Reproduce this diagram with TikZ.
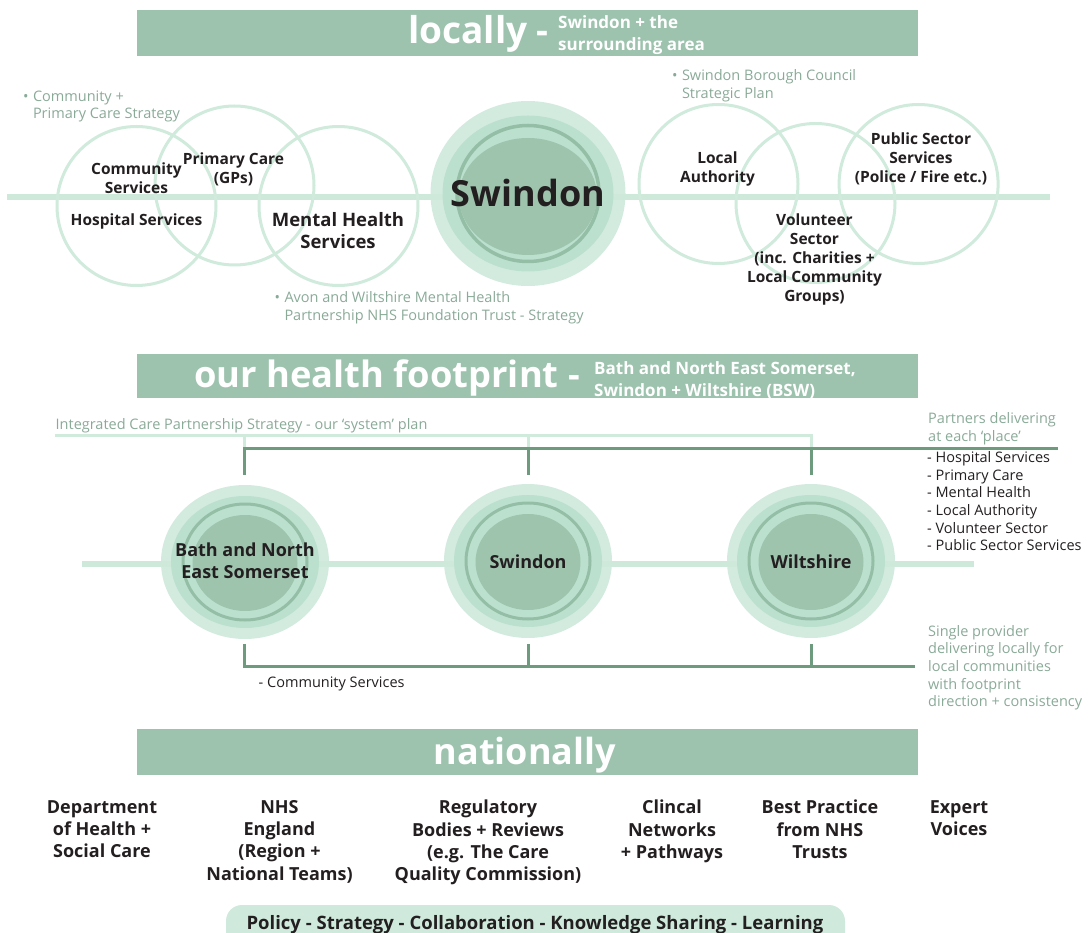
\documentclass[tikz,border=0pt]{standalone}
\usepackage{fontspec}
\setmainfont{Open Sans}
\definecolor{banner}{HTML}{9DC3AE}
\definecolor{cline}{HTML}{D0EADC}
\definecolor{barc}{HTML}{CEE8DA}
\definecolor{outerc}{HTML}{D3EBDF}
\definecolor{secondc}{HTML}{BBE0CE}
\definecolor{ringc}{HTML}{94BEA6}
\definecolor{innerc}{HTML}{9EC4AE}
\definecolor{darkc}{HTML}{6E9A7E}
\definecolor{notec}{HTML}{8AAA98}
\definecolor{txt}{HTML}{231F20}
\definecolor{pillc}{HTML}{CFEADC}
\newcommand\fsz[2]{\fontsize{#1}{#2}\selectfont}
\newcommand\midouter[2]{\fill[outerc] (#1,#2) ellipse [x radius=84pt, y radius=77pt];}
\newcommand\midinner[2]{%
  \fill[secondc] (#1,#2) ellipse [x radius=74pt, y radius=66pt];
  \draw[ringc, line width=3pt] (#1,#2) ellipse [x radius=62pt, y radius=58pt];
  \fill[innerc] (#1,#2+1) ellipse [x radius=52.5pt, y radius=48pt];}
\tikzset{
  circ/.style={draw=cline, line width=3pt},
  lbl/.style={font=\bfseries\fsz{15.5}{19}, text=txt, align=center, inner sep=0pt},
  lblbig/.style={font=\bfseries\fsz{18.5}{21.7}, text=txt, align=center, inner sep=0pt},
  place/.style={font=\bfseries\fsz{18}{22}, text=txt, align=center, inner sep=0pt},
  note/.style={font=\fsz{14.5}{17.6}, text=notec, align=left, inner sep=0pt},
  listtxt/.style={font=\fsz{14.5}{17.6}, text=txt, align=left, inner sep=0pt},
  bantitle/.style={font=\bfseries\fsz{37}{40}, text=white, inner sep=0pt},
  bansub/.style={font=\bfseries\fsz{17}{22}, text=white, align=left, inner sep=0pt},
  natl/.style={font=\bfseries\fsz{18}{22.3}, text=txt, align=center, inner sep=0pt},
  dk/.style={draw=darkc, line width=3pt},
  lt/.style={draw=cline, line width=3pt},
  bar/.style={draw=barc, line width=6pt},
}
\begin{document}
\begin{tikzpicture}[x=1pt,y=-1pt]
\useasboundingbox (0,0) rectangle (1090,933);
% ---------- locally ----------
\fill[banner] (137,10) rectangle (918,56);
\node[bantitle, anchor=base west] (loc) at (408,43.5) {locally -};
\node[bansub, anchor=west] (locsub) at (558,35) {Swindon + the\\surrounding area};
% Swindon disc outer
\fill[outerc] (528,193.5) ellipse [x radius=97.5pt, y radius=92.5pt];
% bar
\draw[bar] (7,197) -- (1050,197);
\fill[secondc] (528,193.5) ellipse [x radius=85.5pt, y radius=78pt];
\draw[ringc, line width=3.5pt] (528,193.5) ellipse [x radius=71pt, y radius=68pt];
\fill[innerc] (528,196.5) ellipse [x radius=69pt, y radius=58.5pt];
\node[font=\bfseries\fsz{36}{40}, text=txt, inner sep=0pt] (swin) at (528,193) {Swindon};
% left circles
\draw[circ] (136.5,206) circle [radius=79.5pt];
\draw[circ] (234.5,185.5) circle [radius=79.5pt];
\draw[circ] (338.5,206) circle [radius=79.5pt];
% right circles
\draw[circ] (718.5,184) circle [radius=79.5pt];
\draw[circ] (815.5,203) circle [radius=79.5pt];
\draw[circ] (918.6,184) circle [radius=79.5pt];
% labels
\node[lbl] (comm) at (136.5,178.5) {Community\\Services};
\node[lbl] (prim) at (233.5,169.5) {Primary Care\\(GPs)};
\node[lbl] (hosp) at (136.5,221.5) {Hospital Services};
\node[lblbig] (ment) at (338,230.5) {Mental Health\\Services};
\node[lbl] (la) at (717.5,168.5) {Local\\Authority};
\node[lbl] (pub) at (921,159) {Public Sector\\Services\\(Police / Fire etc.)};
\node[lbl] (vol) at (814.5,259.5) {Volunteer\\Sector\\(inc. Charities +\\Local Community\\Groups)};
% notes
\node[note, anchor=north west] (n1) at (23,90.5) {•\hspace{0.3em}Community +\\\hphantom{•\hspace{0.3em}}Primary Care Strategy};
\node[note, anchor=north west] (n2) at (274.5,291.5) {•\hspace{0.3em}Avon and Wiltshire Mental Health\\\hphantom{•\hspace{0.3em}}Partnership NHS Foundation Trust - Strategy};
\node[note, anchor=north west] (n3) at (672,69.5) {•\hspace{0.3em}Swindon Borough Council\\\hphantom{•\hspace{0.3em}}Strategic Plan};
% ---------- footprint ----------
\fill[banner] (137,354) rectangle (918,398);
\node[bantitle, font=\bfseries\fsz{36.3}{40}, anchor=base west] (foot) at (194,388) {our health footprint -};
\begin{scope}
\clip (137,354) rectangle (918,398);
\node[bansub, anchor=north west] (footsub) at (594,361) {Bath and North East Somerset,\\Swindon + Wiltshire (BSW)};
\end{scope}
\node[note, anchor=north west] (icp) at (55.5,418.5) {Integrated Care Partnership Strategy - our ‘system’ plan};
% connectors
\coordinate (bj) at (244,475); \coordinate (sj) at (528,475); \coordinate (wj) at (811,475);
\coordinate (rend) at (1058,448);
\coordinate (ils) at (55,435.5);
\draw[lt] (ils) -| (wj |- rend);
\draw[lt] (bj |- ils) -- (bj |- rend);
\draw[lt] (sj |- ils) -- (sj |- rend);
\draw[dk] (bj) |- (rend);
\draw[dk] (sj) -- (sj |- rend);
\draw[dk] (wj) -- (wj |- rend);
\coordinate (bb) at (244,644); \coordinate (sb) at (528,644); \coordinate (wb) at (811,644);
\coordinate (bend) at (915,666.5);
\draw[dk] (bb) |- (bend);
\draw[dk] (sb) -- (sb |- bend);
\draw[dk] (wb) -- (wb |- bend);
% discs
\midouter{245}{562}\midouter{528}{561}\midouter{811}{561}
\draw[bar] (82,563.5) -- (974,563.5);
\midinner{245}{562}\midinner{528}{561}\midinner{811}{561}
\node[place] (banes) at (245,561) {Bath and North\\East Somerset};
\node[place] (swm) at (528,562) {Swindon};
\node[place] (wilt) at (811,562) {Wiltshire};
% right texts
\node[note, anchor=north west] (partners) at (928,412.5) {Partners delivering\\at each ‘place’};
\node[listtxt, anchor=north west] (plist) at (927,451.5) {- Hospital Services\\- Primary Care\\- Mental Health\\- Local Authority\\- Volunteer Sector\\- Public Sector Services};
\node[note, anchor=north west] (single) at (928,625) {Single provider\\delivering locally for\\local communities\\with footprint\\direction + consistency};
\node[listtxt, anchor=north west] (cs) at (258.5,676.5) {- Community Services};
% ---------- nationally ----------
\fill[banner] (137,729) rectangle (918,775);
\node[bantitle, font=\bfseries\fsz{36}{40}, anchor=base] (nat) at (525,764) {nationally};
\node[natl, anchor=north] (c1) at (102,800) {Department\\of Health +\\Social Care};
\node[natl, anchor=north] (c2) at (279.5,800) {NHS\\England\\(Region +\\National Teams)};
\node[natl, anchor=north] (c3) at (488,800) {Regulatory\\Bodies + Reviews\\(e.g. The Care\\Quality Commission)};
\node[natl, anchor=north] (c4) at (672,800) {Clincal\\Networks\\+ Pathways};
\node[natl, anchor=north] (c5) at (820,800) {Best Practice\\from NHS\\Trusts};
\node[natl, anchor=north] (c6) at (959,800) {Expert\\Voices};
\fill[pillc, rounded corners=16pt] (226,905) rectangle (845,950);
\node[font=\bfseries\fsz{18.5}{22}, text=txt, inner sep=0pt] (pill) at (535,925) {Policy - Strategy - Collaboration - Knowledge Sharing - Learning};
\end{tikzpicture}
\end{document}
